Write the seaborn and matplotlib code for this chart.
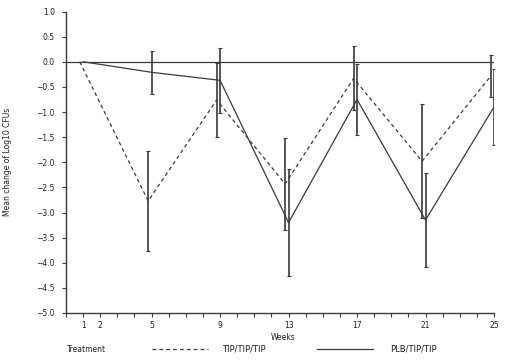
import matplotlib
matplotlib.use("Agg")
import matplotlib.pyplot as plt
import seaborn as sns
import pandas as pd
from matplotlib.lines import Line2D

weeks = [1, 5, 9, 13, 17, 21, 25]
tip_mean = [0.0, -2.77, -0.76, -2.43, -0.33, -1.98, -0.29]
tip_err = [0.0, 1.00, 0.73, 0.91, 0.64, 1.13, 0.42]
plb_mean = [0.0, -0.21, -0.37, -3.20, -0.75, -3.15, -0.90]
plb_err = [0.0, 0.43, 0.64, 1.06, 0.70, 0.94, 0.75]
xtick_labels = [1, 2, 5, 9, 13, 17, 21, 25]
series_names = ["TIP/TIP/TIP", "PLB/TIP/TIP"]

sns.set_theme(style="ticks")
plt.rcParams["font.family"] = ["DejaVu Sans"]
FS = 5.5
col = "#3a3a3a"
tcol = "#1e1e1e"

W, H = 516, 362
fig = plt.figure(figsize=(W / 100, H / 100), dpi=100)
ax = fig.add_axes([66 / W, 1 - 313 / H, (494 - 66) / W, (313 - 11.5) / H])

off = -0.2
df = pd.DataFrame({
    "week": [w + off for w in weeks] + weeks,
    "mean": tip_mean + plb_mean,
    "err": tip_err + plb_err,
    "Treatment": [series_names[0]] * len(weeks) + [series_names[1]] * len(weeks),
})

ax.axhline(0, color=col, lw=0.9, zorder=1)
sns.lineplot(data=df, x="week", y="mean", style="Treatment",
             dashes={series_names[0]: (3, 2.5), series_names[1]: ""},
             color=col, lw=0.9, ax=ax, legend=False, sort=False)

for name in series_names:
    sub = df[(df["Treatment"] == name) & (df["err"] > 0)]
    ax.errorbar(sub["week"], sub["mean"], yerr=sub["err"], fmt="none",
                ecolor=col, elinewidth=1.2, capsize=1.5, capthick=0.8)

ax.set_xlim(0, 25)
ax.set_ylim(-5, 1)
ax.set_xticks(range(0, 26), minor=True)
ax.set_xticks(xtick_labels)
ax.set_xticklabels([str(v) for v in xtick_labels], fontsize=FS)
yt = [1.0 - 0.5 * i for i in range(13)]
ax.set_yticks(yt)
ax.set_yticklabels([f"{v:.1f}".replace("-", "\u2212") for v in yt], fontsize=FS)
ax.tick_params(axis="both", which="both", direction="out", length=3, width=0.8,
               color=col, labelcolor=tcol)
ax.tick_params(axis="y", pad=5)
ax.tick_params(axis="x", pad=3)
for s in ["top", "right"]:
    ax.spines[s].set_visible(False)
for s in ["left", "bottom"]:
    ax.spines[s].set_color(col)
    ax.spines[s].set_linewidth(1.0)

ax.set_xlabel("Weeks", fontsize=FS, color=tcol)
ax.xaxis.set_label_coords((283 - 66) / 428, -(333 - 313) / 301.5)
ax.set_ylabel("Mean change of Log10 CFUs", fontsize=FS, color=tcol)
ax.yaxis.set_label_coords(-(66 - 12) / 428, 0.5)

ly = 1 - 349 / H
fig.text(67 / W, ly, "Treatment", fontsize=FS, va="center", color=tcol)
fig.add_artist(Line2D([152 / W, 208 / W], [ly, ly], color=col, lw=0.9, dashes=(3, 2.5)))
fig.text(222 / W, ly, series_names[0], fontsize=FS + 0.5, va="center", color=tcol)
fig.add_artist(Line2D([317 / W, 373 / W], [ly, ly], color=col, lw=0.9))
fig.text(390 / W, ly, series_names[1], fontsize=FS + 0.5, va="center", color=tcol)

fig.savefig("out.png", dpi=100)
